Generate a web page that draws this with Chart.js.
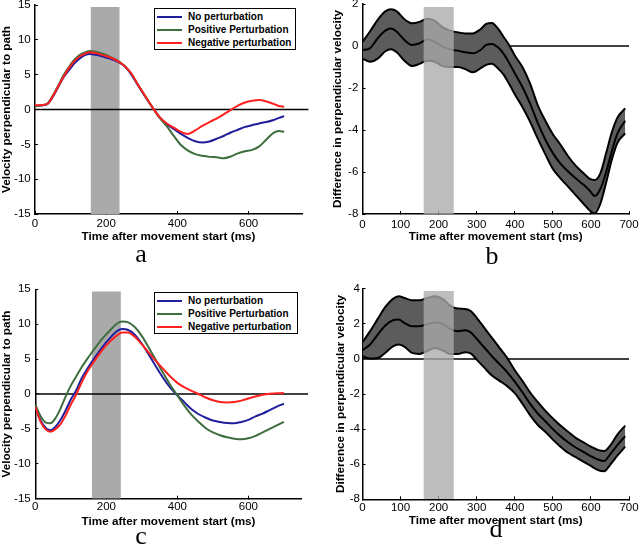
<!DOCTYPE html>
<html>
<head>
<meta charset="utf-8">
<script src="https://cdn.jsdelivr.net/npm/chart.js@4.4.1/dist/chart.umd.min.js"></script>
<style>
  html,body{margin:0;padding:0;background:#fff;}
  #wrap{position:relative;width:640px;height:552px;overflow:hidden;background:#fff;}
  canvas{position:absolute;}
  .lbl{position:absolute;font-family:'Liberation Serif','Times New Roman',serif;font-size:26px;line-height:26px;transform:translateX(-50%);color:#000;}
  .legend{position:absolute;border:1.5px solid #000;background:#fff;box-sizing:border-box;font-family:'Liberation Sans',Arial,sans-serif;font-weight:bold;font-size:10px;color:#000;}
  .legend .row{position:absolute;left:0;height:13px;line-height:13px;white-space:nowrap;}
  .legend .sw{position:absolute;left:2px;top:6px;width:25px;height:2px;}
  .legend .tx{position:absolute;left:33px;top:0;}
</style>
</head>
<body>
<div id="wrap">
  <canvas id="ca" width="320" height="276" style="left:0;top:0"></canvas>
  <canvas id="cb" width="320" height="276" style="left:320px;top:0"></canvas>
  <canvas id="cc" width="320" height="276" style="left:0;top:276px"></canvas>
  <canvas id="cd" width="320" height="276" style="left:320px;top:276px"></canvas>
  <div class="lbl" style="left:141px;top:241px">a</div>
  <div class="lbl" style="left:492px;top:243px">b</div>
  <div class="lbl" style="left:141px;top:523px">c</div>
  <div class="lbl" style="left:496px;top:516px">d</div>
  <div id="legA" class="legend" style="left:154px;top:8px;width:142px;height:42px"></div>
  <div id="legC" class="legend" style="left:154px;top:292px;width:144px;height:42px"></div>
</div>
<script>
// ---------------- data ----------------
const seriesNames = ['No perturbation', 'Positive Perturbation', 'Negative perturbation'];

// Panel a
const timeA = [0,20,35,50,65,80,95,110,125,140,155,170,190,210,230,250,270,290,310,330,350,370,390,410,430,450,470,490,510,530,550,570,590,610,630,650,670,685,700];
const noPertA  = [0.5,0.6,0.8,1.8,3.2,4.6,5.6,6.6,7.3,7.8,7.95,7.85,7.6,7.3,6.9,6.3,5.05,3.4,1.8,0.3,-1.1,-2.1,-2.8,-3.5,-4.1,-4.55,-4.75,-4.6,-4.2,-3.8,-3.3,-2.9,-2.5,-2.25,-2.0,-1.8,-1.5,-1.2,-0.95];
const posPertA = [0.5,0.6,0.85,2.0,3.4,4.9,6.1,7.1,7.8,8.2,8.4,8.3,8.0,7.6,7.1,6.3,5.2,3.5,1.9,0.3,-1.2,-2.4,-3.8,-5.1,-5.9,-6.4,-6.65,-6.8,-6.85,-7.0,-6.75,-6.3,-6.0,-5.8,-5.3,-4.3,-3.35,-3.1,-3.2];
const negPertA = [0.6,0.65,0.8,1.9,3.3,4.7,5.9,6.9,7.6,8.0,8.2,8.1,7.8,7.5,7.0,6.3,5.2,3.5,1.9,0.3,-1.1,-2.0,-2.6,-3.2,-3.5,-3.0,-2.35,-1.8,-1.3,-0.7,-0.05,0.55,1.0,1.25,1.35,1.15,0.8,0.5,0.4];

// Panel c
const timeC = [0,15,30,42,55,70,85,100,115,130,150,170,190,210,230,245,260,280,300,320,340,360,380,400,420,440,460,480,500,520,540,560,580,600,620,640,660,680,700];
const noPertC  = [-1.8,-3.8,-4.9,-5.2,-4.8,-3.8,-2.4,-0.8,0.5,2.2,3.9,5.4,6.8,8.0,9.0,9.3,9.2,8.5,7.2,5.6,3.9,2.3,0.9,-0.2,-1.2,-2.2,-2.9,-3.4,-3.8,-4.0,-4.15,-4.2,-4.0,-3.7,-3.2,-2.8,-2.3,-1.8,-1.4];
const posPertC = [-1.5,-3.2,-4.1,-4.2,-3.6,-2.2,-0.4,1.2,2.5,3.8,5.3,6.7,8.0,9.1,10.1,10.4,10.3,9.6,8.3,6.6,4.8,3.0,1.3,-0.2,-1.7,-3.0,-4.0,-4.9,-5.5,-5.9,-6.2,-6.4,-6.5,-6.35,-6.0,-5.5,-5.0,-4.5,-4.0];
const negPertC = [-1.8,-4.0,-5.1,-5.4,-5.1,-4.4,-3.1,-1.5,-0.1,1.6,3.5,5.0,6.4,7.5,8.4,8.8,8.8,8.2,7.1,5.9,4.7,3.6,2.5,1.6,0.95,0.45,0.0,-0.5,-0.9,-1.15,-1.2,-1.15,-0.95,-0.65,-0.35,-0.1,0.05,0.1,0.15];

// Panel b
const timeB = [0,20,40,60,75,90,110,130,150,170,190,210,230,250,270,290,310,325,340,355,370,385,400,420,440,460,480,500,520,540,560,580,595,610,625,640,655,670,690];
const diffUpperB = [0.2,0.7,1.25,1.65,1.75,1.65,1.27,1.08,1.15,1.3,1.2,0.9,0.73,0.65,0.6,0.6,0.8,1.05,1.1,0.85,0.45,0.05,-0.45,-1.0,-1.78,-2.8,-3.55,-4.2,-4.7,-5.25,-5.7,-6.05,-6.3,-6.38,-6.05,-5.1,-4.1,-3.4,-2.97];
const diffMeanB  = [-0.19,-0.1,0.37,0.73,0.83,0.68,0.29,0.05,0.13,0.32,0.2,-0.03,-0.16,-0.22,-0.3,-0.35,-0.19,0.05,0.1,-0.05,-0.35,-0.8,-1.3,-1.95,-2.73,-3.65,-4.45,-5.1,-5.6,-5.98,-6.3,-6.6,-6.85,-7.14,-6.8,-6.0,-5.0,-4.15,-3.56];
const diffLowerB = [-0.6,-0.75,-0.6,-0.25,-0.15,-0.3,-0.7,-0.95,-0.85,-0.7,-0.75,-0.95,-1.0,-1.0,-1.1,-1.25,-1.06,-0.9,-0.85,-1.05,-1.35,-1.8,-2.3,-2.9,-3.6,-4.4,-5.15,-5.85,-6.3,-6.7,-7.1,-7.5,-7.8,-7.97,-7.5,-6.5,-5.4,-4.6,-4.16];

// Panel d
const timeD = [0,20,40,60,80,95,110,130,150,170,190,210,230,250,270,285,300,320,340,360,380,400,420,440,460,480,500,520,540,560,580,600,620,635,650,670,690];
const diffUpperD = [0.95,1.58,2.28,2.96,3.42,3.57,3.47,3.34,3.34,3.47,3.57,3.42,3.04,2.87,2.85,2.72,2.34,1.77,1.2,0.63,0.06,-0.65,-1.25,-1.9,-2.45,-2.95,-3.4,-3.8,-4.15,-4.5,-4.75,-5.0,-5.2,-5.25,-4.95,-4.3,-3.8];
const diffMeanD  = [0.5,0.82,1.39,1.9,2.2,2.24,2.05,1.86,1.86,1.98,2.08,2.0,1.71,1.58,1.63,1.5,1.15,0.65,0.15,-0.3,-0.75,-1.3,-1.9,-2.55,-3.1,-3.55,-4.0,-4.4,-4.75,-5.05,-5.3,-5.55,-5.75,-5.82,-5.45,-4.9,-4.4];
const diffLowerD = [0.15,0.02,0.05,0.35,0.72,0.82,0.7,0.34,0.28,0.45,0.62,0.49,0.28,0.28,0.38,0.3,-0.04,-0.5,-0.95,-1.25,-1.55,-1.95,-2.55,-3.2,-3.75,-4.15,-4.6,-5.0,-5.35,-5.6,-5.85,-6.1,-6.35,-6.4,-6.05,-5.5,-5.0];

// stimulus windows (ms) and tick labels
const windowA = [156, 238];
const windowC = [159, 241];
const windowBD = [160, 240];
const xTicksAC = [0, 200, 400, 600];
const yTicksAC = [-15, -10, -5, 0, 5, 10, 15];
const xTicksBD = [0, 100, 200, 300, 400, 500, 600, 700];
const yTicksB = [-8, -6, -4, -2, 0, 2];
const yTicksD = [-8, -6, -4, -2, 0, 2, 4];
const zeroSpanAC = [0, 768];
const zeroSpanBD = [0, 700];

// ---------------- styles ----------------
const FONT = "'Liberation Sans', Arial, Helvetica, sans-serif";
const COLORS = ['#1f1f9c', '#3e6e3e', '#ff2020'];
const XTITLE = 'Time after movement start (ms)';

const pts = (t, v) => t.map((x, i) => ({x: x, y: v[i]}));

function xAxis(g) {
  return {
    type: 'linear', position: 'bottom', min: g.xMin, max: g.xMax,
    border: {display: true, color: '#000', width: 1.5},
    grid: {display: true, drawOnChartArea: false, drawTicks: true, tickLength: -3, color: '#000', lineWidth: 1},
    ticks: {color: '#000', font: {family: FONT, size: 11.5}, padding: g.xTickPad, autoSkip: false, maxRotation: 0, minRotation: 0},
    title: {display: true, text: XTITLE, color: '#000', font: {family: FONT, size: 11.7, weight: 'bold'}, padding: {top: 0, bottom: 0}},
    afterBuildTicks: s => { s.ticks = g.xTicks.map(v => ({value: v})); },
    afterFit: s => { s.height = g.xTitleBottom - g.bottom; s.paddingLeft = 0; s.paddingRight = 0; s.paddingTop = 0; s.paddingBottom = 0; }
  };
}
function yAxis(g) {
  return {
    type: 'linear', position: 'left', min: g.yMin, max: g.yMax,
    border: {display: true, color: '#000', width: 1.5},
    grid: {display: true, drawOnChartArea: false, drawTicks: true, tickLength: -3, color: '#000', lineWidth: 1},
    ticks: {color: '#000', font: {family: FONT, size: 11.5}, padding: g.yTickPad, autoSkip: false},
    title: {display: true, text: g.yTitle, color: '#000', font: {family: FONT, size: 11.7, weight: 'bold'}, padding: {top: g.yTitlePad, bottom: 0}},
    afterBuildTicks: s => { s.ticks = g.yTicks.map(v => ({value: v})); },
    afterFit: s => { s.width = g.left; s.paddingLeft = 0; s.paddingRight = 0; s.paddingTop = 0; s.paddingBottom = 0; }
  };
}
function baseOptions(g) {
  return {
    responsive: false, animation: false, devicePixelRatio: 1,
    layout: {padding: {left: 0, top: g.top, right: 320 - g.right, bottom: 276 - g.xTitleBottom}},
    plugins: {legend: {display: false}, tooltip: {enabled: false}},
    elements: {point: {radius: 0}},
    scales: {x: xAxis(g), y: yAxis(g)}
  };
}

function curvePanel(id, g, time, series, win) {
  const datasets = [];
  series.forEach((vals, i) => {
    datasets.push({data: pts(time, vals), borderColor: COLORS[i], borderWidth: 2, fill: false,
      cubicInterpolationMode: 'monotone', order: series.length - 1 - i});
  });
  datasets.push({data: pts(zeroSpanAC, [0, 0]), borderColor: '#000', borderWidth: 1.5, fill: false, tension: 0, clip: false, order: 10});
  datasets.push({data: pts(win, [g.bandTop, g.bandTop]), borderColor: 'transparent', borderWidth: 0,
    backgroundColor: '#aaaaaa', fill: {value: g.yMin}, tension: 0, order: 20});
  new Chart(document.getElementById(id), {type: 'line', data: {datasets}, options: baseOptions(g)});
}

function diffPanel(id, g, time, upper, mean, lower, win) {
  const datasets = [
    {data: pts(win, [g.bandTop, g.bandTop]), borderColor: 'transparent', borderWidth: 0,
      backgroundColor: 'rgba(170,170,170,0.78)', fill: {value: g.yMin}, tension: 0, order: 0},
    {data: pts(time, mean), borderColor: '#000', borderWidth: 2, fill: false, cubicInterpolationMode: 'monotone', order: 1},
    {data: pts(time, upper), borderColor: '#000', borderWidth: 2, fill: false, cubicInterpolationMode: 'monotone', order: 2},
    {data: pts(time, lower), borderColor: '#000', borderWidth: 2, fill: false, cubicInterpolationMode: 'monotone', order: 3},
    {data: pts(time, upper), borderColor: 'transparent', borderWidth: 0, backgroundColor: '#5c5c5c', fill: 3,
      cubicInterpolationMode: 'monotone', order: 4},
    {data: pts(zeroSpanBD, [0, 0]), borderColor: '#000', borderWidth: 1.5, fill: false, tension: 0, order: 5}
  ];
  new Chart(document.getElementById(id), {type: 'line', data: {datasets}, options: baseOptions(g)});
}

const gA = {left: 35, right: 302, top: 5, bottom: 214, xMin: 0, xMax: 750, yMin: -15, yMax: 15,
  xTicks: xTicksAC, yTicks: yTicksAC, xTickPad: 6.1, yTickPad: 7.3, xTitleBottom: 243.7, yTitlePad: 0,
  yTitle: 'Velocity perpendicular to path', bandTop: 14.7};
const gC = {left: 35.3, right: 301.7, top: 13.3, bottom: 222.7, xMin: 0, xMax: 750, yMin: -15, yMax: 15,
  xTicks: xTicksAC, yTicks: yTicksAC, xTickPad: 4.4, yTickPad: 7.6, xTitleBottom: 252.7, yTitlePad: 0,
  yTitle: 'Velocity perpendicular to path', bandTop: 14.7};
const gB = {left: 42.5, right: 309, top: 4, bottom: 214, xMin: 0, xMax: 700, yMin: -8, yMax: 2,
  xTicks: xTicksBD, yTicks: yTicksB, xTickPad: 7.1, yTickPad: 7.2, xTitleBottom: 244, yTitlePad: 10.5,
  yTitle: 'Difference in perpendicular velocity', bandTop: 1.86};
const gD = {left: 42.5, right: 309, top: 12.7, bottom: 223.3, xMin: 0, xMax: 700, yMin: -8, yMax: 4,
  xTicks: xTicksBD, yTicks: yTicksD, xTickPad: 4.5, yTickPad: 5.5, xTitleBottom: 251.3, yTitlePad: 14,
  yTitle: 'Difference in perpendicular velocity', bandTop: 3.87};

curvePanel('ca', gA, timeA, [noPertA, posPertA, negPertA], windowA);
curvePanel('cc', gC, timeC, [noPertC, posPertC, negPertC], windowC);
diffPanel('cb', gB, timeB, diffUpperB, diffMeanB, diffLowerB, windowBD);
diffPanel('cd', gD, timeD, diffUpperD, diffMeanD, diffLowerD, windowBD);

function buildLegend(id) {
  const el = document.getElementById(id);
  seriesNames.forEach((name, i) => {
    const row = document.createElement('div');
    row.className = 'row';
    row.style.top = (1 + i * 13) + 'px';
    row.innerHTML = '<span class="sw" style="background:' + COLORS[i] + '"></span><span class="tx"></span>';
    row.querySelector('.tx').textContent = name;
    el.appendChild(row);
  });
}
buildLegend('legA');
buildLegend('legC');
</script>
</body>
</html>
